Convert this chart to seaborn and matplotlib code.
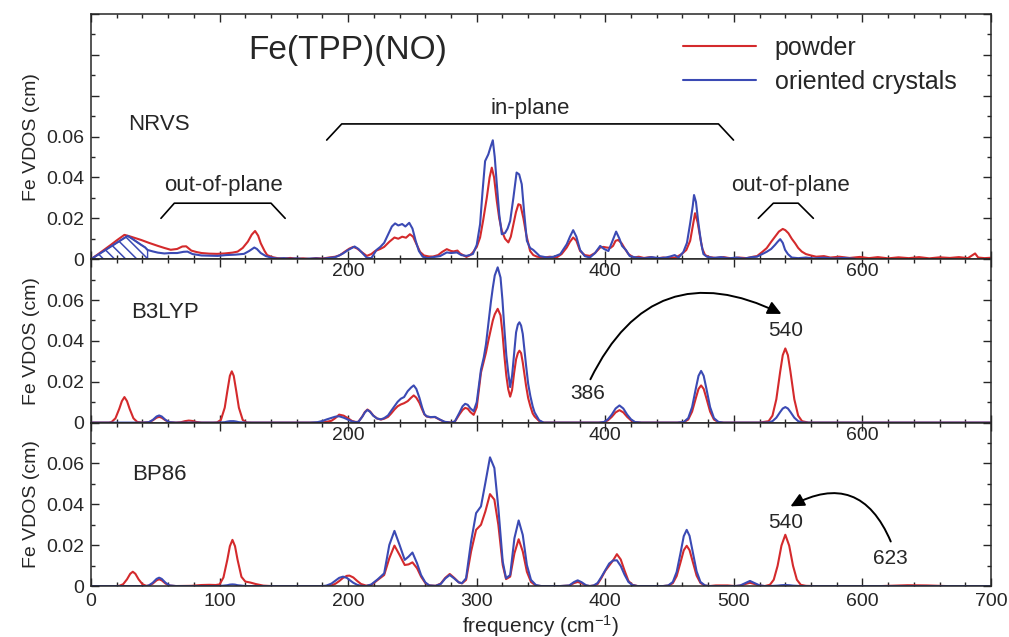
import pandas as pd
import seaborn as sns
import matplotlib.pyplot as plt
from matplotlib.ticker import MultipleLocator, FuncFormatter

RED = '#d42a2c'
BLUE = '#3b4ab4'

# ---- NRVS experiment: (frequency cm-1, Fe VDOS cm) ----
nrvs_powder = [
    (0, 0), (5, .0022), (10, .0045), (15, .0068), (20, .0092), (26, .0119), (30, .0112), (35, .0102),
    (39, .0094), (45, .0080), (52, .0065), (57, .0055), (62, .0046), (67, .0050), (71, .0062), (74, .0063),
    (78, .0042), (82, .0035), (86, .0030), (92, .0027), (98, .0026), (104, .0028), (110, .0032), (114, .0037),
    (118, .0055), (122, .0086), (125, .0120), (127.6, .0138), (130, .0115), (132, .0078), (135, .0040),
    (137, .0020), (141, .0010), (145, .0005), (150, .0003), (155, .0006), (160, .0002), (165, .0004),
    (170, .0001), (175, .0005), (180, .0003), (185, .0008), (190, .0012), (193.7, .0020), (197, .0035),
    (201, .0052), (204, .0060), (207, .0052), (210, .0037), (214.5, .0016), (218, .0025), (221, .0040),
    (225, .0050), (228, .0060), (232, .0085), (236, .0106), (239, .0100), (242, .0110), (245, .0105),
    (248, .0122), (250.5, .0110), (253, .0075), (256, .0035), (259, .0018), (263, .0013), (266, .0013),
    (270, .0020), (273, .0035), (276.7, .0049), (280, .0040), (282, .0038), (285, .0042), (287, .0028),
    (290, .0018), (292, .0011), (295, .0020), (297, .0033), (300, .0060), (302.6, .0106), (305, .0190),
    (307.8, .0300), (310, .0400), (311.7, .0448), (313.5, .0400), (315.6, .0285), (317.5, .0200),
    (319.5, .0139), (322, .0100), (324.6, .0082), (326.5, .0110), (328.5, .0171), (330.5, .0230),
    (332.4, .0269), (334, .0265), (336.3, .0200), (338.5, .0120), (341.5, .0040), (344, .0020),
    (347, .0012), (352, .0008), (357, .0012), (362, .0008), (366, .0025), (370, .0057), (372.5, .0085),
    (375, .0106), (377.5, .0090), (380.4, .0040), (384, .0020), (388, .0016), (392, .0030), (396, .0057),
    (398.5, .0060), (401, .0057), (404, .0055), (406, .0065), (408, .0090), (410, .0094), (412.8, .0077),
    (415.3, .0050), (418, .0025), (422, .0008), (426, .0012), (430, .0006), (435, .0010), (440, .0004),
    (445, .0008), (450, .0005), (455, .0009), (459.4, .0025), (463, .0045), (466, .0090), (468, .0160),
    (469.8, .0225), (471.8, .0180), (473.7, .0110), (475.5, .0050), (477.6, .0020), (481, .0010),
    (486, .0006), (492, .0010), (498, .0004), (504, .0008), (510, .0005), (515, .0012), (518, .0015),
    (522, .0035), (525.5, .0054), (529, .0085), (532, .0110), (535, .0135), (538, .0148), (540, .0142),
    (542.4, .0127), (545, .0100), (547.6, .0078), (550, .0055), (552.8, .0037), (556, .0025), (560, .0018),
    (564, .0012), (570, .0015), (575, .0008), (582, .0012), (590, .0006), (598, .0011), (605, .0005),
    (612, .0010), (620, .0004), (628, .0009), (636, .0005), (644, .0010), (652, .0004), (660, .0009),
    (668, .0006), (675, .0010), (682, .0005), (687.6, .0028), (690, .0008), (695, .0005), (700, .0007),
]

nrvs_crystal = [
    (0, 0), (5, .0020), (10, .0040), (15, .0060), (20, .0080), (25, .0100), (28.5, .0114), (32, .0100),
    (35, .0087), (39, .0070), (42, .0058), (44, .0045), (48, .0038), (52, .0032), (57, .0028), (62, .0030),
    (67, .0030), (72, .0036), (75, .0037), (79, .0025), (86, .0018), (92, .0017), (98.5, .0016), (105, .0020),
    (112, .0022), (119, .0026), (123, .0040), (127, .0057), (129, .0050), (132, .0030), (136, .0015),
    (140, .0008), (145, .0003), (150, .0005), (155, .0002), (160, .0004), (165, .0001), (170, .0003),
    (175, .0004), (180, .0002), (185, .0006), (190, .0010), (193, .0018), (196, .0028), (200, .0045),
    (205, .0062), (208, .0050), (212.6, .0020), (214.5, .0007), (218, .0005), (222, .0045), (225, .0060),
    (228, .0080), (231, .0120), (234, .0160), (236.5, .0175), (239, .0165), (242, .0172), (244.5, .0160),
    (247.5, .0178), (250, .0150), (252.5, .0090), (255, .0040), (258, .0012), (262, .0005), (266, .0010),
    (271.5, .0015), (276.7, .0033), (280, .0030), (284.5, .0033), (288, .0020), (292, .0016), (297, .0025),
    (300, .0070), (302.6, .0171), (304.5, .0330), (306.5, .0480), (309, .0513), (310.8, .0550),
    (312.5, .0582), (314, .0500), (315.6, .0367), (317.5, .0220), (319.5, .0122), (322, .0128),
    (324, .0150), (326, .0187), (328.5, .0300), (331, .0424), (333, .0415), (335, .0367), (337, .0220),
    (339, .0090), (341.5, .0055), (344, .0045), (349, .0015), (355, .0008), (360, .0012), (365, .0025),
    (370, .0073), (372.5, .0110), (375, .0142), (377.5, .0110), (380.4, .0045), (384, .0015), (388, .0008),
    (392, .0030), (396, .0065), (399, .0050), (402.4, .0040), (405, .0080), (408.4, .0135), (411, .0100),
    (413, .0065), (416, .0045), (419, .0015), (424, .0008), (430, .0004), (436, .0010), (442, .0005),
    (447, .0008), (450.4, .0013), (454, .0020), (457, .0008), (460.7, .0035), (463.5, .0080), (466, .0176),
    (468, .0260), (469, .0314), (470.5, .0280), (472.4, .0176), (474.5, .0080), (476.3, .0025), (479, .0012),
    (484, .0006), (490, .0010), (496, .0004), (502, .0008), (508, .0003), (514, .0010), (518, .0012),
    (522, .0025), (525.5, .0036), (529, .0050), (532, .0070), (534, .0085), (536, .0098), (538, .0080),
    (539.8, .0046), (542, .0025), (545, .0008), (550, .0005), (556, .0008), (562, .0004), (570, .0007),
    (578, .0003), (586, .0006), (594, .0002),
]

# ---- B3LYP calculation ----
b3lyp_freq = [
    0, 14,
    16, 19, 22, 24, 26, 28, 30, 33, 36,
    40,
    45, 48, 51, 53, 55, 58, 61,
    66, 70, 73, 76, 79, 82, 86,
    95, 98, 101, 104, 106, 108, 109.5, 111, 113, 115, 118, 121, 125,
    170, 176, 180, 183.5, 187, 190, 193, 196.5, 200, 203, 206,
    208, 211, 213, 215, 217, 219.5, 222.5, 225.5, 228, 231,
    233.5, 236, 238.5, 241, 243.5, 246.3, 249, 251, 253, 255.4, 257.5, 259.3, 261, 264, 267.5, 271, 275, 280,
    283, 286.5, 289, 291, 293, 295, 297.6, 300, 303.3, 305.5, 307.2, 309, 311, 312.5, 314, 316.3, 318.5,
    320, 321.5, 323, 324.5, 326, 327.5, 329, 330.6, 332, 333.2, 334.5, 335.8, 337, 338.4, 340, 341.7,
    343.5, 345, 348.5, 352,
    395, 399, 402, 405, 408, 411, 414, 417, 420, 423, 428,
    456, 461, 464.5, 467.5, 470.5, 472.5, 474.5, 476.5, 478.5, 481.5, 484.5, 488, 492,
    520, 527, 530, 533, 536, 538, 540, 542, 544, 547, 550, 553, 558,
    700,
]
b3lyp_powder = [
    0, 0,
    .0003, .0021, .0068, .0105, .0125, .0105, .0068, .0021, .0003,
    0,
    .0002, .0011, .0024, .0028, .0024, .0011, .0002,
    0, .0002, .0007, .0010, .0008, .0003, 0,
    0, .0001, .0013, .0073, .0153, .0229, .0251, .0229, .0153, .0073, .0013, .0001, 0,
    0, 0, .0001, .0004, .0009, .0022, .0039, .0034, .0021, .0008, .0003,
    .0004, .0030, .0052, .0064, .0055, .0035, .0020, .0015, .0019, .0028,
    .0045, .0064, .0080, .0089, .0095, .0105, .0122, .0133, .0122, .0097, .0065, .0040, .0030, .0026, .0027, .0015, .0003, 0,
    .0005, .0040, .0062, .0072, .0068, .0052, .0038, .0075, .0245, .0300, .0343, .0400, .0458, .0500, .0530, .0557, .0525,
    .0440, .0327, .0230, .0163, .0127, .0160, .0240, .0310, .0340, .0352, .0340, .0294, .0240, .0179, .0120, .0080,
    .0045, .0030, .0008, 0,
    0, .0002, .0011, .0028, .0050, .0061, .0050, .0028, .0011, .0002, 0,
    0, .0002, .0015, .0054, .0122, .0165, .0182, .0165, .0122, .0054, .0015, .0002, 0,
    0, .0007, .0034, .0114, .0249, .0330, .0363, .0330, .0249, .0114, .0034, .0007, 0,
    0,
]
b3lyp_crystal = [
    0, 0,
    0, 0, 0, 0, 0, 0, 0, 0, 0,
    0,
    .0002, .0013, .0030, .0035, .0030, .0013, .0002,
    0, 0, 0, 0, 0, 0, 0,
    0, 0, .0001, .0002, .0005, .0007, .0007, .0007, .0005, .0002, .0001, 0, 0,
    0, .0002, .0008, .0016, .0023, .0029, .0031, .0024, .0014, .0006, .0002,
    .0004, .0029, .0050, .0062, .0053, .0034, .0020, .0016, .0022, .0035,
    .0058, .0080, .0102, .0117, .0125, .0154, .0172, .0182, .0165, .0122, .0075, .0042, .0031, .0027, .0028, .0016, .0004, 0,
    .0006, .0048, .0080, .0092, .0087, .0070, .0056, .0100, .0260, .0320, .0384, .0480, .0590, .0660, .0720, .0760, .0710,
    .0600, .0458, .0330, .0245, .0174, .0230, .0330, .0442, .0480, .0491, .0475, .0434, .0360, .0278, .0190, .0130,
    .0080, .0050, .0012, 0,
    0, .0003, .0016, .0039, .0069, .0084, .0069, .0039, .0016, .0003, 0,
    0, .0003, .0022, .0076, .0170, .0229, .0253, .0229, .0170, .0076, .0022, .0003, 0,
    0, .0001, .0007, .0024, .0052, .0069, .0076, .0069, .0052, .0024, .0007, .0001, 0,
    0,
]

# ---- BP86 calculation ----
bp86_freq = [
    0, 20,
    22, 25, 28, 30.5, 32.5, 34.5, 37, 40, 43,
    45, 48, 51, 53, 55, 58, 61, 66,
    78, 86, 92, 97,
    100, 103, 106, 108, 110, 112, 114, 117, 120, 124, 128, 134, 140,
    180, 183, 187, 190, 193, 196, 199, 201, 204, 207, 210, 214, 218,
    223, 228, 232, 236, 240, 244, 247, 250, 253.6, 256.7, 260, 263, 268,
    272, 275.5, 279, 282.5, 286, 288.5, 291.7, 295.6, 299.5, 303.3, 306.7, 310.3, 313.7, 316.8, 320.2,
    322.8, 326, 329.3, 332.6, 335.8, 339, 342.2, 346, 350,
    365, 372, 375.5, 378.5, 381.5, 385, 388,
    391, 394, 397, 400, 403, 406, 409, 412, 415, 418, 421, 425,
    445, 449, 452.5, 455.5, 458.5, 461, 463.3, 465.5, 468, 471, 474, 477.5, 481,
    486, 495, 501,
    505, 509, 512.5, 516, 520, 524,
    528, 531, 534, 537, 540, 543, 546, 549, 552, 556, 562,
    615, 625, 635, 650, 665, 700,
]
bp86_powder = [
    0, 0,
    .0001, .0009, .0033, .0060, .0070, .0060, .0033, .0009, .0001,
    .0002, .0012, .0028, .0033, .0028, .0012, .0002, 0,
    .0001, .0005, .0006, .0005,
    .0008, .0042, .0128, .0195, .0226, .0195, .0128, .0045, .0022, .0017, .0010, .0002, 0,
    0, 0, .0003, .0011, .0024, .0040, .0050, .0051, .0042, .0025, .0010, .0002, .0005,
    .0030, .0054, .0136, .0198, .0152, .0103, .0106, .0116, .0087, .0046, .0015, .0003, .0001,
    .0012, .0040, .0059, .0040, .0018, .0013, .0030, .0169, .0275, .0300, .0365, .0450, .0423, .0300, .0103,
    .0034, .0046, .0160, .0229, .0169, .0070, .0020, .0002, 0,
    0, .0002, .0014, .0020, .0014, .0002, 0,
    .0002, .0010, .0040, .0075, .0100, .0125, .0156, .0130, .0075, .0025, .0006, 0,
    0, .0002, .0014, .0049, .0116, .0175, .0197, .0176, .0120, .0051, .0015, .0002, 0,
    .0003, .0003, 0,
    .0002, .0010, .0016, .0010, .0002, 0,
    .0006, .0031, .0099, .0198, .0251, .0198, .0099, .0031, .0006, .0001, 0,
    0, .0002, .0004, .0003, 0, 0,
]
bp86_crystal = [
    0, 0,
    0, 0, 0, 0, 0, 0, 0, 0, 0,
    .0003, .0016, .0035, .0041, .0035, .0016, .0003, 0,
    0, 0, 0, 0,
    0, .0002, .0004, .0007, .0008, .0007, .0004, .0002, 0, 0, 0, 0, 0,
    0, .0002, .0012, .0026, .0040, .0046, .0040, .0030, .0016, .0006, .0001, 0, .0008,
    .0033, .0062, .0201, .0270, .0201, .0128, .0144, .0164, .0111, .0054, .0018, .0003, .0001,
    .0010, .0037, .0054, .0037, .0018, .0014, .0038, .0218, .0357, .0390, .0505, .0630, .0578, .0382, .0120,
    .0038, .0054, .0234, .0321, .0250, .0103, .0030, .0005, 0,
    0, .0003, .0019, .0028, .0019, .0004, 0,
    .0003, .0015, .0045, .0078, .0110, .0125, .0126, .0098, .0055, .0020, .0005, 0,
    0, .0003, .0020, .0069, .0162, .0244, .0275, .0246, .0168, .0072, .0020, .0003, 0,
    0, 0, 0,
    .0003, .0015, .0025, .0015, .0003, 0,
    0, .0001, .0002, .0004, .0005, .0004, .0002, .0001, 0, 0, 0,
    0, 0, 0, 0, 0, 0,
]

assert len(b3lyp_freq) == len(b3lyp_powder) == len(b3lyp_crystal)
assert len(bp86_freq) == len(bp86_powder) == len(bp86_crystal)

panel_names = ['NRVS', 'B3LYP', 'BP86']
panel_label_pos = [(29, 0.066), (31, 0.054), (31.6, 0.0545)]
inner_tick_labels = [200, 400, 600]
hatch_limit = 44  # acoustic region shaded under the crystal curve

# bracket annotations in the NRVS panel: (x list, y list, label, label position)
brackets = [
    ([54.4, 64.8, 140, 151], [0.020, 0.0274, 0.0274, 0.020], 'out-of-plane', (102.7, 0.0363)),
    ([183.3, 195, 488, 499.7], [0.0583, 0.0662, 0.0662, 0.0583], 'in-plane', (341.5, 0.0738)),
    ([519, 530.7, 550, 561.8], [0.020, 0.0274, 0.0274, 0.020], 'out-of-plane', (543.7, 0.0363)),
]

sns.set_style('ticks')
plt.rcParams['font.family'] = ['Liberation Sans', 'DejaVu Sans']
plt.rcParams['mathtext.default'] = 'regular'
plt.rcParams['hatch.linewidth'] = 1.1

fig, axes = plt.subplots(3, 1, figsize=(10.09, 6.37), dpi=100, sharex=True,
                         gridspec_kw={'height_ratios': [3, 2, 2], 'hspace': 0})
fig.subplots_adjust(left=0.0902, right=0.9822, top=0.978, bottom=0.080)

# NRVS panel
powder_df = pd.DataFrame(nrvs_powder, columns=['freq', 'vdos'])
crystal_df = pd.DataFrame(nrvs_crystal, columns=['freq', 'vdos'])
ax = axes[0]
sns.lineplot(data=powder_df, x='freq', y='vdos', ax=ax, color=RED, lw=1.5,
             estimator=None, label='powder')
sns.lineplot(data=crystal_df, x='freq', y='vdos', ax=ax, color=BLUE, lw=1.5,
             estimator=None, label='oriented crystals')
low = crystal_df[crystal_df['freq'] <= hatch_limit]
ax.fill_between(low['freq'], low['vdos'], 0, facecolor='none', edgecolor=BLUE,
                hatch='\\\\\\', lw=1.0)

for xs, ys, text, (tx, ty) in brackets:
    ax.plot(xs, ys, color='black', lw=1.2)
    ax.text(tx, ty, text, fontsize=16, ha='center', va='center')

ax.text(200, 0.1023, 'Fe(TPP)(NO)', fontsize=24, ha='center', va='center')
ax.legend(loc='upper left', bbox_to_anchor=(0.658, 0.912), frameon=False, fontsize=18,
          handlelength=2.9, handletextpad=0.76, labelspacing=0.42, borderpad=0,
          borderaxespad=0)

# calculated panels
calc = [(axes[1], b3lyp_freq, b3lyp_powder, b3lyp_crystal),
        (axes[2], bp86_freq, bp86_powder, bp86_crystal)]
for ax, freq, powder, crystal in calc:
    df = pd.DataFrame({'freq': freq, 'powder': powder, 'crystal': crystal})
    sns.lineplot(data=df, x='freq', y='powder', ax=ax, color=RED, lw=1.5, estimator=None)
    sns.lineplot(data=df, x='freq', y='crystal', ax=ax, color=BLUE, lw=1.5, estimator=None)
    for t in inner_tick_labels:
        ax.annotate(str(t), xy=(t, 1), xycoords=('data', 'axes fraction'), xytext=(0, -3),
                    textcoords='offset points', ha='center', va='top', fontsize=14)

# shift arrows
axes[1].annotate('', xy=(537, 0.0532), xytext=(388.4, 0.0212),
                 arrowprops=dict(arrowstyle='-|>,head_length=0.45,head_width=0.22',
                                 connectionstyle='arc3,rad=-0.5', color='black', lw=1.4,
                                 mutation_scale=18, shrinkA=0, shrinkB=0))
axes[1].text(386.3, 0.0143, '386', fontsize=15, ha='center', va='center')
axes[1].text(540.6, 0.045, '540', fontsize=15, ha='center', va='center')
axes[2].annotate('', xy=(544, 0.039), xytext=(622, 0.0218),
                 arrowprops=dict(arrowstyle='-|>,head_length=0.45,head_width=0.22',
                                 connectionstyle='arc3,rad=0.55', color='black', lw=1.4,
                                 mutation_scale=18, shrinkA=0, shrinkB=0))
axes[2].text(540, 0.0313, '540', fontsize=15, ha='center', va='center')
axes[2].text(621.7, 0.0136, '623', fontsize=15, ha='center', va='center')


def vdos_fmt(v, pos):
    if abs(v) < 1e-9:
        return '0'
    if v < 0.07:
        return f'{v:.2f}'
    return ''


for i, ax in enumerate(axes):
    ax.set_xlim(0, 700)
    ax.set_ylim(0, 0.12 if i == 0 else 0.08)
    ax.xaxis.set_major_locator(MultipleLocator(100))
    ax.xaxis.set_minor_locator(MultipleLocator(20))
    ax.yaxis.set_major_locator(MultipleLocator(0.02))
    ax.yaxis.set_minor_locator(MultipleLocator(0.01))
    ax.yaxis.set_major_formatter(FuncFormatter(vdos_fmt))
    ax.tick_params(which='both', direction='in', top=True, right=True, width=1.0,
                   labelsize=14, pad=5)
    ax.tick_params(which='major', length=6)
    ax.tick_params(which='minor', length=3)
    for s in ax.spines.values():
        s.set_linewidth(1.1)
    ax.set_ylabel('Fe VDOS (cm)', fontsize=14)
    ax.set_xlabel('')
    x0, y0 = panel_label_pos[i]
    ax.text(x0, y0, panel_names[i], fontsize=16, ha='left', va='center')

axes[2].set_xlabel('frequency (cm$^{-1}$)', fontsize=15, labelpad=2)
fig.align_ylabels(axes)

fig.savefig('out.png', dpi=100)
